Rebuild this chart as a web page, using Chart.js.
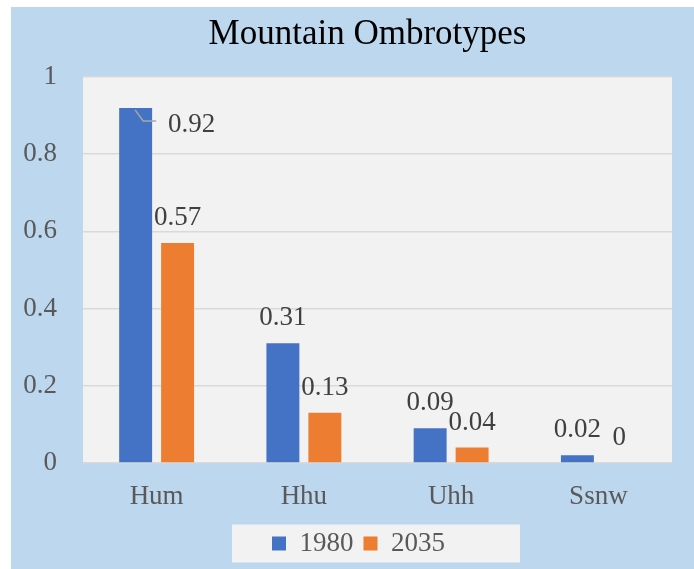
<!DOCTYPE html>
<html>
<head>
<meta charset="utf-8">
<script src="https://cdn.jsdelivr.net/npm/chart.js@4.4.0/dist/chart.umd.min.js"></script>
<style>
html, body { margin: 0; padding: 0; background: #fff; }
#wrap { position: absolute; left: 11px; top: 7px; width: 683px; height: 562px; background: #BDD7EE; }
</style>
</head>
<body>
<div id="wrap"><canvas id="myChart"></canvas></div>
<script>
const categories = ['Hum', 'Hhu', 'Uhh', 'Ssnw']
const values1980 = [0.92, 0.31, 0.09, 0.02]
const values2035 = [0.57, 0.13, 0.04, 0]
const yTicks = [0, 0.2, 0.4, 0.6, 0.8, 1]

const serif = "'Liberation Serif', 'Times New Roman', serif"

// title and legend sit a bit right of the canvas centre in the original
const shiftBlocks = {
    id: 'shiftBlocks',
    afterLayout(chart) {
        chart.titleBlock.left += 26
        chart.titleBlock.right += 26
        chart.legend.left += 17
        chart.legend.right += 17
    }
}

// light gray plot area like the excel chart
const plotArea = {
    id: 'plotArea',
    beforeDraw(chart) {
        const { ctx, chartArea: a } = chart
        ctx.save()
        ctx.fillStyle = '#F2F2F2'
        ctx.fillRect(a.left, a.top, a.right - a.left, a.bottom - a.top)
        // legend background
        const boxes = chart.legend.legendHitBoxes
        if (boxes && boxes.length) {
            const first = boxes[0]
            const last = boxes[boxes.length - 1]
            const cy = first.top + first.height / 2
            ctx.fillStyle = '#F2F2F2'
            ctx.fillRect(first.left - 40, cy - 19, last.left + last.width + 75 - (first.left - 40), 38)
        }
        ctx.restore()
    }
}

const barLabels = {
    id: 'barLabels',
    afterDatasetsDraw(chart) {
        const ctx = chart.ctx
        ctx.save()
        ctx.font = '27px ' + serif
        ctx.fillStyle = '#404040'
        ctx.textAlign = 'center'
        ctx.textBaseline = 'alphabetic'
        chart.data.datasets.forEach((ds, i) => {
            chart.getDatasetMeta(i).data.forEach((bar, j) => {
                const text = String(ds.data[j])
                if (i === 0 && j === 0) {
                    // this label was dragged aside, with a leader line
                    ctx.strokeStyle = '#A6A6A6'
                    ctx.lineWidth = 1.5
                    ctx.beginPath()
                    ctx.moveTo(bar.x - 0.5, bar.y + 2)
                    ctx.lineTo(bar.x + 7.5, bar.y + 13)
                    ctx.lineTo(bar.x + 20.5, bar.y + 13)
                    ctx.stroke()
                    ctx.fillText(text, bar.x + 56, bar.y + 24)
                } else {
                    ctx.fillText(text, bar.x, bar.y - 18)
                }
            })
        })
        ctx.restore()
    }
}

const ctx = document.getElementById('myChart')
new Chart(ctx, {
    type: 'bar',
    data: {
        labels: categories,
        datasets: [
            {
                label: '1980',
                data: values1980,
                backgroundColor: '#4472C4',
                categoryPercentage: 0.57,
                barPercentage: 0.785
            },
            {
                label: '2035',
                data: values2035,
                backgroundColor: '#ED7D31',
                categoryPercentage: 0.57,
                barPercentage: 0.785
            }
        ]
    },
    options: {
        responsive: true,
        maintainAspectRatio: false,
        animation: false,
        layout: {
            padding: { left: 0, right: 22, top: 0, bottom: 2 }
        },
        scales: {
            x: {
                grid: { display: false, drawTicks: false },
                border: { display: false },
                ticks: {
                    color: '#595959',
                    padding: 18,
                    font: { family: serif, size: 27 }
                },
                afterFit(scale) {
                    scale.height = 57
                }
            },
            y: {
                min: 0,
                max: 1,
                grid: { color: '#D9D9D9', lineWidth: 1.5, drawTicks: false },
                border: { display: false },
                ticks: {
                    color: '#595959',
                    padding: 26,
                    font: { family: serif, size: 27 },
                    callback: v => String(v)
                },
                afterBuildTicks(scale) {
                    scale.ticks = yTicks.map(v => ({ value: v }))
                },
                afterFit(scale) {
                    scale.width = 72
                }
            }
        },
        plugins: {
            title: {
                display: true,
                text: 'Mountain Ombrotypes',
                color: '#000000',
                font: { family: serif, size: 35, weight: 'normal', lineHeight: 1.2 },
                padding: { top: 7, bottom: 21 }
            },
            legend: {
                position: 'bottom',
                labels: {
                    color: '#595959',
                    boxWidth: 14,
                    boxHeight: 14,
                    padding: 10,
                    font: { family: serif, size: 27 }
                }
            },
            tooltip: { enabled: false }
        }
    },
    plugins: [shiftBlocks, plotArea, barLabels]
})
</script>
</body>
</html>
